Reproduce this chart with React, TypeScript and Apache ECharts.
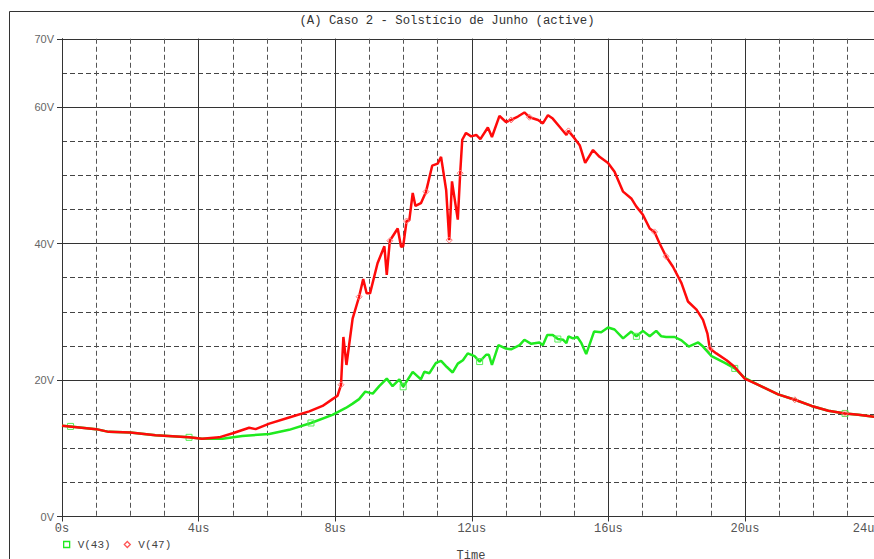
import React, { useEffect, useRef } from "react";
import * as echarts from "echarts";

// Time axis values in microseconds
const tGreen = [
  0, 0.25, 1.0, 1.37, 2.0, 2.74, 3.72, 4.1, 4.7, 5.28, 6.07, 6.65, 7.29, 7.92, 8.31, 8.5,
  8.7, 8.88, 9.1, 9.29, 9.51, 9.68, 9.88, 9.99, 10.27, 10.51, 10.61, 10.76, 10.95, 11.1,
  11.27, 11.44, 11.59, 11.74, 11.88, 12.08, 12.23, 12.42, 12.5, 12.59, 12.78, 13.0, 13.15,
  13.4, 13.54, 13.74, 13.98, 14.08, 14.21, 14.37, 14.52, 14.67, 14.77, 14.83, 14.96, 15.09,
  15.21, 15.35, 15.58, 15.79, 15.99, 16.18, 16.43, 16.67, 16.82, 17.01, 17.21, 17.4, 17.55,
  17.69, 17.94, 18.14, 18.35, 18.63, 18.77, 19.02, 19.41, 19.7, 19.99, 20.39, 20.97, 21.46,
  21.95, 22.44, 22.93, 23.32, 23.81, 24.0,
];
const vGreen = [
  13.3, 13.2, 12.8, 12.4, 12.3, 11.9, 11.6, 11.4, 11.4, 11.8, 12.1, 12.7, 13.7, 14.9, 15.9, 16.5,
  17.2, 18.3, 18.0, 19.1, 20.2, 19.1, 20.1, 19.0, 21.2, 20.1, 21.2, 21.0, 22.5, 22.8,
  21.9, 21.1, 22.4, 22.9, 23.9, 23.5, 22.7, 23.7, 23.7, 22.2, 25.1, 24.6, 24.5,
  25.1, 25.9, 25.3, 25.5, 25.1, 26.6, 26.6, 26.0, 25.9, 25.4, 26.4, 26.1, 26.3,
  25.4, 23.8, 27.1, 27.0, 27.7, 27.4, 26.1, 27.1, 26.4, 27.2, 26.4, 27.2, 26.4,
  26.3, 26.3, 25.8, 24.9, 25.5, 24.9, 23.5, 22.5, 21.7, 20.3, 19.3, 17.9, 17.1,
  16.2, 15.5, 15.1, 14.9, 14.6, 14.5,
];

const tRed = [
  0, 1.0, 1.37, 2.0, 2.74, 3.72, 4.1, 4.6, 5.0, 5.48, 5.67, 6.07, 6.65, 7.24, 7.63, 7.92,
  8.07, 8.17, 8.24, 8.33, 8.51, 8.7, 8.82, 8.92, 9.02, 9.24, 9.44, 9.51, 9.6, 9.83, 9.93,
  9.99, 10.09, 10.17, 10.27, 10.35, 10.51, 10.66, 10.84, 11.0, 11.1, 11.25, 11.34, 11.42,
  11.59, 11.66, 11.72, 11.83, 11.98, 12.13, 12.25, 12.47, 12.59, 12.81, 13.0, 13.15, 13.35,
  13.54, 13.69, 13.94, 14.08, 14.23, 14.37, 14.57, 14.77, 14.83, 15.01, 15.16, 15.32, 15.55,
  15.74, 15.99, 16.18, 16.43, 16.67, 16.82, 17.01, 17.21, 17.35, 17.5, 17.69, 17.89, 18.14,
  18.33, 18.58, 18.77, 18.9, 18.97, 19.16, 19.46, 19.7, 19.99, 20.39, 20.97, 21.46, 21.95,
  22.44, 22.93, 23.32, 23.81, 24.0,
];
const vRed = [
  13.3, 12.8, 12.4, 12.3, 11.9, 11.6, 11.4, 11.6, 12.2, 13.0, 12.8, 13.6, 14.5, 15.4, 16.2, 17.2,
  17.7, 19.3, 26.3, 22.2, 29.0, 32.2, 34.8, 32.7, 32.7, 37.1, 39.6, 35.4, 40.4, 42.2, 39.5,
  39.6, 43.3, 43.4, 47.4, 45.5, 45.9, 47.6, 51.4, 51.7, 52.7, 47.8, 40.5, 49.1,
  43.5, 50.3, 55.2, 56.2, 55.7, 55.9, 55.3, 57.0, 55.6, 58.7, 57.8, 58.1, 58.6,
  59.2, 58.5, 58.1, 57.6, 58.8, 58.3, 57.1, 55.9, 56.5, 55.4, 54.4, 51.8, 53.7,
  52.7, 51.8, 50.5, 47.6, 46.6, 45.4, 44.2, 42.2, 41.7, 40.0, 38.1, 36.6, 34.2,
  31.5, 30.3, 28.8, 26.8, 24.6, 23.9, 22.9, 21.9, 20.2, 19.3, 17.9, 17.1, 16.2,
  15.5, 15.1, 14.9, 14.6, 14.5,
];

const greenMarkerTimes = [0.25, 3.72, 7.29, 9.99, 12.23, 14.52, 16.82, 19.7, 22.93];
const redMarkerTimes = [8.17, 8.7, 9.6, 10.09, 10.66, 11.34, 11.66, 13.15, 13.69, 14.83, 17.35, 17.69, 18.97, 21.46, 22.93];

const yMajorTicks = [0, 20, 40, 60, 70];
const xMax = 24;
const xMajorStep = 4;
const seriesNames = ["V(43)", "V(47)"];
const titleText = "(A) Caso 2 - Solstício de Junho (active)";

const GREEN = "#1fea1f";
const RED = "#ff0a0a";

function buildData(ts: number[], vs: number[], markers: number[], sym: string) {
  const set = new Set(markers);
  return ts.map((t, i) => ({
    value: [t, vs[i]],
    symbol: set.has(t) ? sym : "none",
    symbolSize: 6,
  }));
}

export default function App() {
  const ref = useRef<HTMLDivElement>(null);
  useEffect(() => {
    if (!ref.current) return;
    const chart = echarts.init(ref.current, undefined, { renderer: "svg" });
    const mono = "Liberation Mono";
    chart.setOption({
      animation: false,
      backgroundColor: "#ffffff",
      grid: {
        left: 62,
        top: 38.75,
        width: xMax * 34.15,
        height: 477.75,
        outerBoundsMode: "none",
      },
      graphic: [
        {
          type: "rect",
          silent: true,
          z: -10,
          shape: { x: 9.5, y: 11.5, width: 1400, height: 1400 },
          style: { fill: "none", stroke: "#333", lineWidth: 1 },
        },
        {
          type: "text",
          x: 447,
          y: 21,
          style: {
            text: titleText,
            fill: "#333",
            font: `12.3px "${mono}"`,
            textAlign: "center",
            textVerticalAlign: "middle",
          },
        },
        {
          type: "text",
          x: 471,
          y: 550,
          style: {
            text: "Time",
            fill: "#444",
            font: `12px "${mono}"`,
            textAlign: "center",
            textVerticalAlign: "top",
          },
        },
      ],
      legend: {
        left: 58,
        top: 534,
        itemWidth: 6,
        itemHeight: 6,
        itemGap: 13,
        selectedMode: false,
        textStyle: {
          fontFamily: mono,
          fontSize: 11,
          color: "#444",
          padding: [0, 0, 0, 3],
        },
        data: [
          {
            name: seriesNames[0],
            icon: "rect",
            itemStyle: { color: "#ffffff", borderColor: GREEN, borderWidth: 1.3 },
          },
          {
            name: seriesNames[1],
            icon: "diamond",
            itemStyle: { color: "#ffffff", borderColor: "#ff5555", borderWidth: 1.3 },
          },
        ],
      },
      xAxis: [
        {
          type: "value",
          min: 0,
          max: xMax,
          interval: 1,
          axisLine: { show: false },
          axisTick: { show: false },
          axisLabel: { show: false },
          splitLine: { show: true, lineStyle: { color: "#555", type: [5, 3], width: 1 } },
        },
        {
          type: "value",
          min: 0,
          max: xMax,
          interval: xMajorStep,
          position: "bottom",
          axisLine: { show: true, onZero: false, lineStyle: { color: "#333" } },
          axisTick: { show: true, length: 5, lineStyle: { color: "#333" } },
          axisLabel: {
            formatter: (v: number) => (v === 0 ? "0s" : v + "us"),
            showMaxLabel: true,
            alignMaxLabel: "right",
            margin: 6,
            color: "#555",
            fontFamily: mono,
            fontSize: 12,
          },
          splitLine: { show: true, lineStyle: { color: "#333", width: 1 } },
        },
      ],
      yAxis: [
        {
          type: "value",
          min: 0,
          max: 70,
          interval: 5,
          axisLine: { show: false },
          axisTick: { show: false },
          axisLabel: { show: false },
          splitLine: { show: true, lineStyle: { color: "#444", type: [5, 3], width: 1 } },
        },
        {
          type: "value",
          min: 0,
          max: 70,
          interval: 20,
          position: "left",
          axisLine: { show: true, onZero: false, lineStyle: { color: "#333" } },
          axisTick: { show: true, length: 5, lineStyle: { color: "#333" } },
          axisLabel: {
            formatter: (v: number) => (yMajorTicks.includes(v) ? v + "V" : ""),
            showMaxLabel: true,
            margin: 8,
            color: "#666",
            fontFamily: "Liberation Sans",
            fontSize: 11,
          },
          splitLine: { show: true, lineStyle: { color: "#333", width: 1 } },
        },
      ],
      series: [
        {
          type: "line",
          name: seriesNames[0],
          xAxisIndex: 0,
          yAxisIndex: 0,
          data: buildData(tGreen, vGreen, greenMarkerTimes, "rect"),
          showSymbol: true,
          showAllSymbol: true,
          lineStyle: { color: GREEN, width: 2.5 },
          itemStyle: { color: "rgba(0,0,0,0)", borderColor: "#55ee55", borderWidth: 1 },
          emphasis: { disabled: true },
          z: 3,
        },
        {
          type: "line",
          name: seriesNames[1],
          xAxisIndex: 0,
          yAxisIndex: 0,
          data: buildData(tRed, vRed, redMarkerTimes, "diamond"),
          showSymbol: true,
          showAllSymbol: true,
          lineStyle: { color: RED, width: 2.5 },
          itemStyle: { color: "rgba(0,0,0,0)", borderColor: "#ff7777", borderWidth: 1 },
          emphasis: { disabled: true },
          z: 4,
        },
      ],
    });
    return () => chart.dispose();
  }, []);
  return (
    <div
      style={{
        position: "fixed",
        left: 0,
        top: 0,
        width: 874,
        height: 559,
        overflow: "hidden",
        background: "#fff",
      }}
    >
      <div ref={ref} style={{ width: 960, height: 600 }} />
    </div>
  );
}
